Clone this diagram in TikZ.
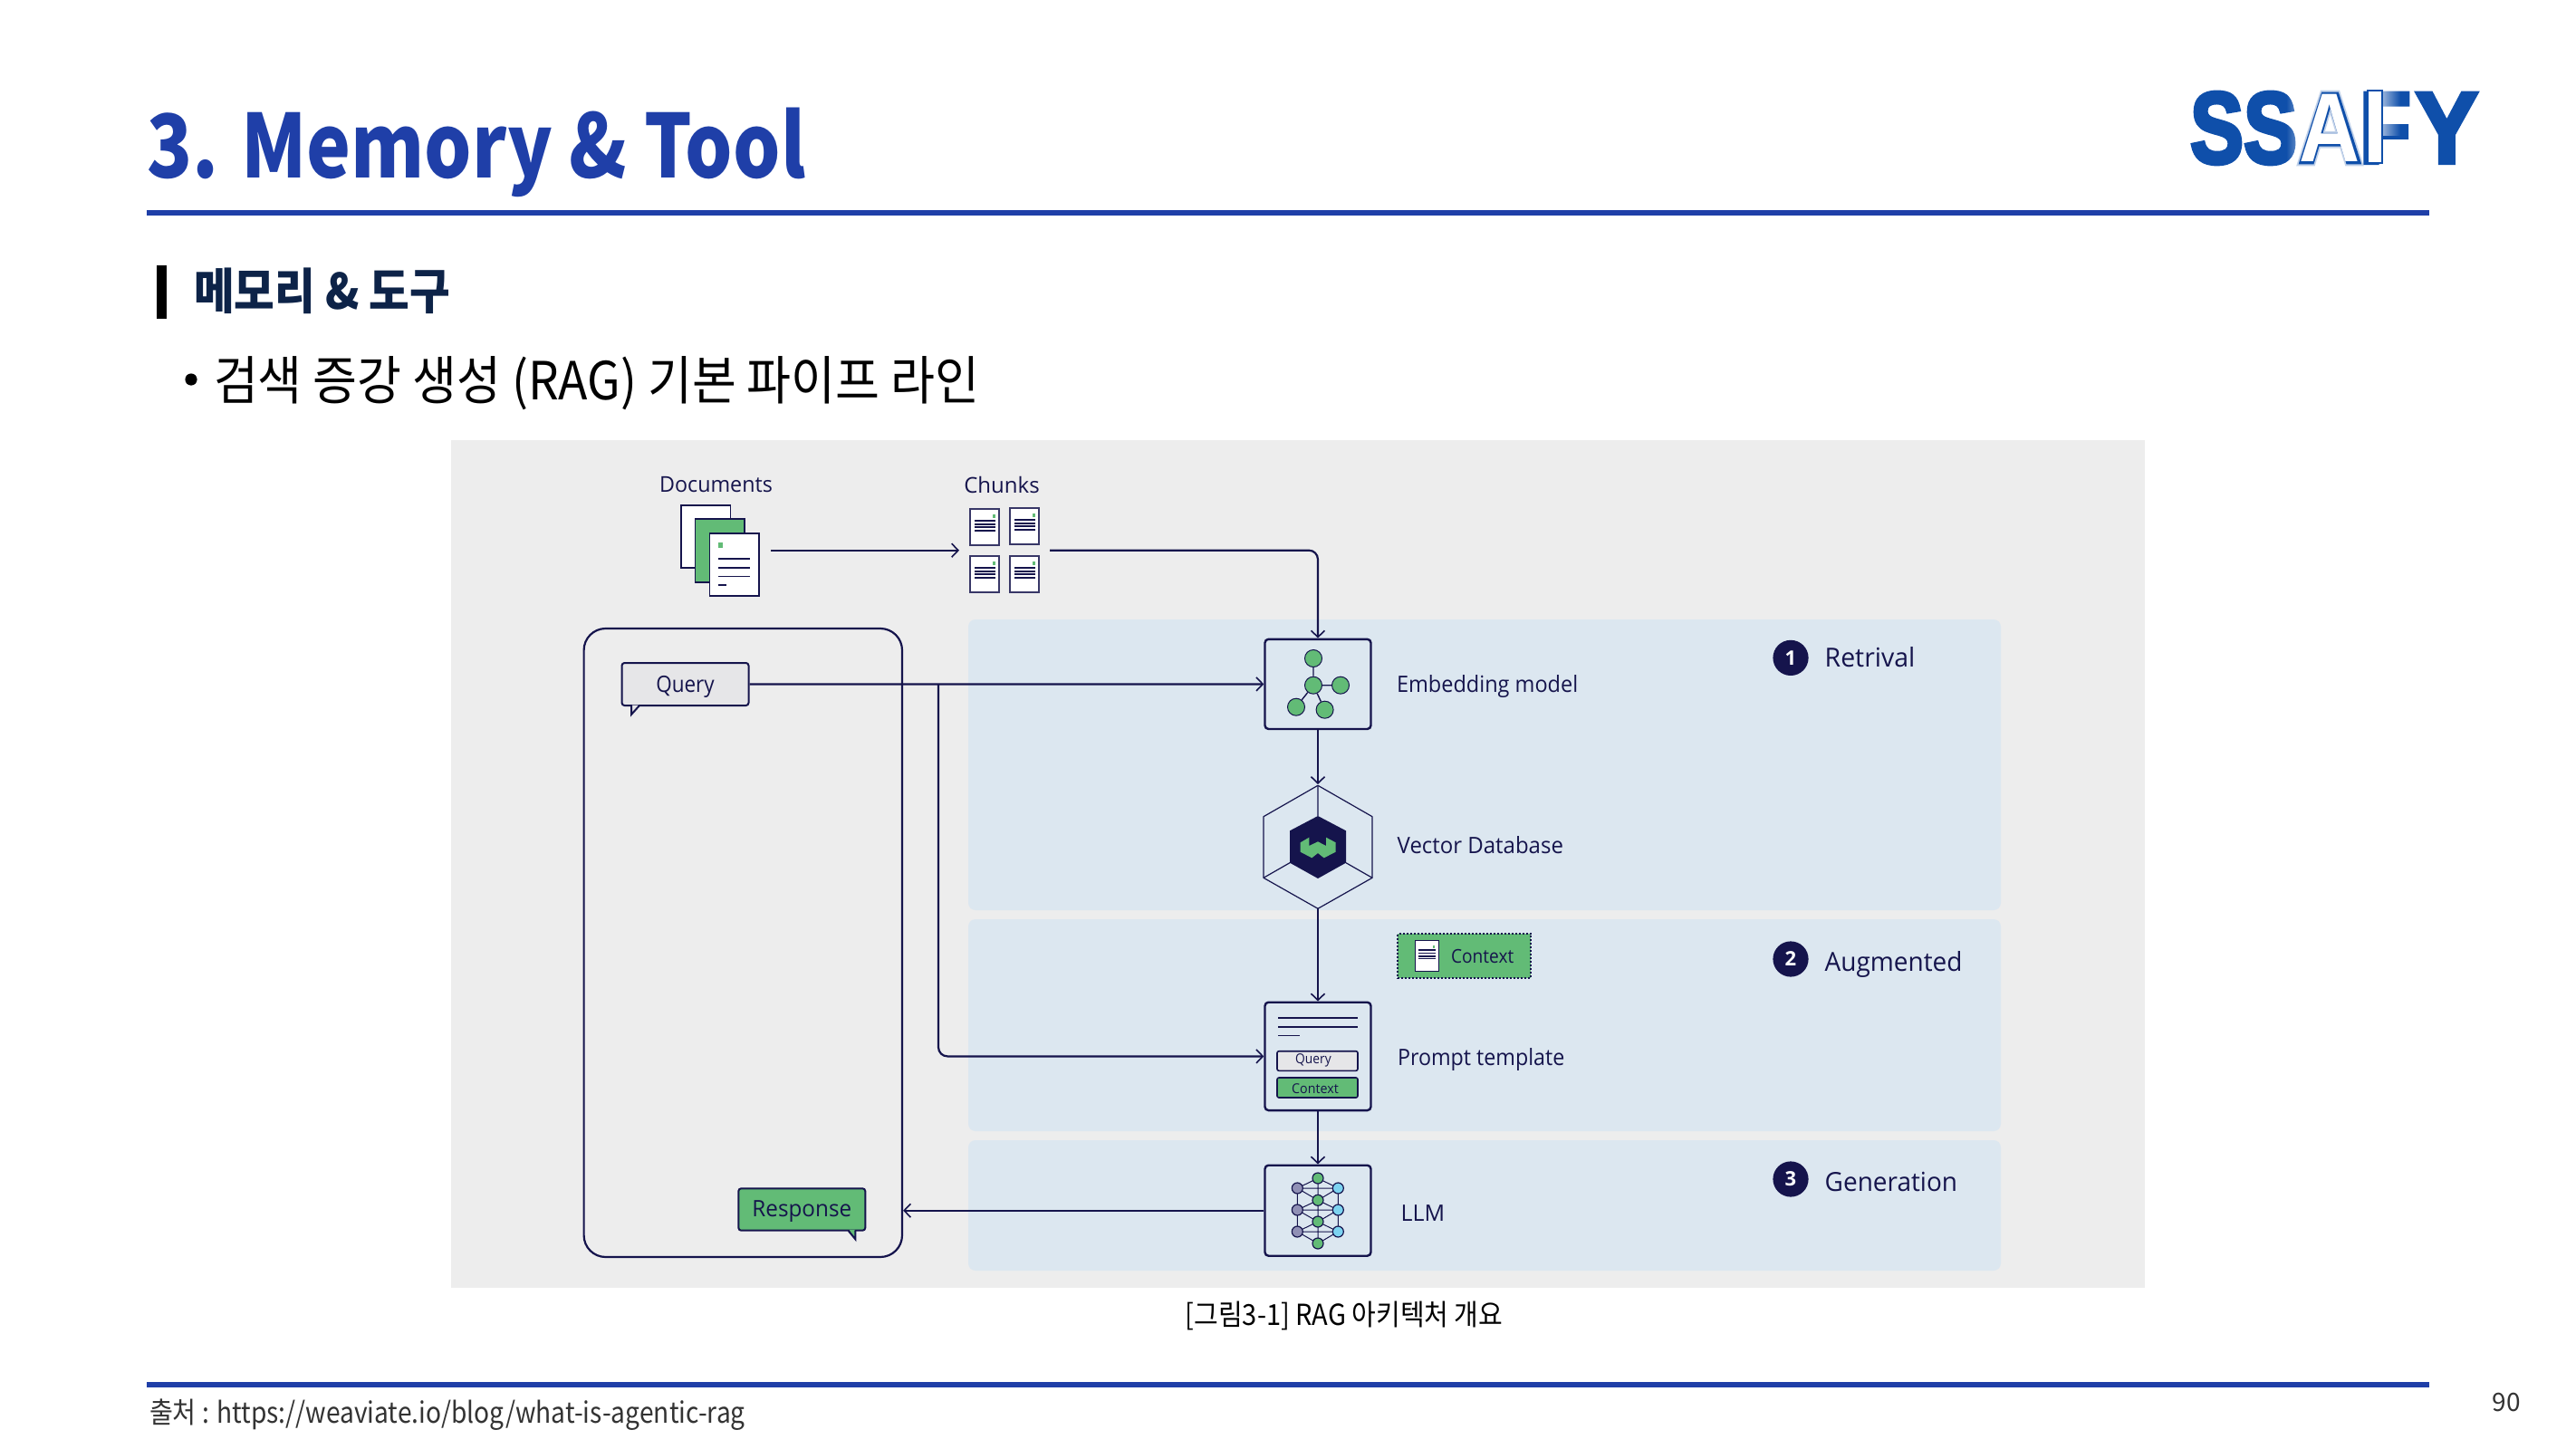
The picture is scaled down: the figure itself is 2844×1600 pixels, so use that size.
\documentclass[tikz,border=0pt]{standalone}
\usepackage{fontspec}
\usetikzlibrary{arrows.meta,fadings}
\setmainfont{Open Sans}
\newfontfamily\kr{Noto Sans CJK KR}
\newfontfamily\logofont{Liberation Sans Bold}
\newfontfamily\logofat[FakeBold=4]{Liberation Sans Bold}
\newfontfamily\logoedge[FakeBold=2.5]{Liberation Sans Bold}
\newfontfamily\logoglow[FakeBold=6]{Liberation Sans Bold}
\definecolor{titleblue}{HTML}{1F3FA8}
\definecolor{ink}{HTML}{15144C}
\definecolor{panelgrey}{HTML}{EDEDED}
\definecolor{panelblue}{HTML}{DCE7F0}
\definecolor{leaf}{HTML}{62BB76}
\definecolor{logoblue}{HTML}{0F4FAA}
\definecolor{subnavy}{HTML}{0D2348}
\definecolor{bubblegrey}{HTML}{E6E6E8}
\definecolor{nodepurple}{HTML}{9090B5}
\definecolor{nodesky}{HTML}{7DD3F0}
\newcommand\fpx[1]{\fontsize{\fpeval{#1*0.5}pt}{\fpeval{#1*0.6}pt}\selectfont}
\newcommand\xs[2]{\scalebox{#1}[1]{#2}}
\tikzset{
  x=0.5pt,y=-0.5pt,
  txt/.style={inner sep=0pt,outer sep=0pt,text=ink},
  lab/.style={txt,anchor=west,font=\fpx{25}},
  conn/.style={draw=ink,line width=1.1pt,-{Straight Barb[length=3.6pt,width=7.5pt,line width=.8pt]}},
  plain/.style={draw=ink,line width=1.1pt},
  band/.style={fill=panelblue,rounded corners=4pt},
  iconbox/.style={draw=ink,line width=1.2pt,rounded corners=2pt,inner sep=0pt,minimum width=58.5pt},
  page/.style={draw=ink,fill=white,line width=.7pt},
  thinpage/.style={draw=ink!85,fill=white,line width=.55pt},
  dotg/.style={circle,draw=ink,line width=.5pt,inner sep=0pt,minimum size=9.5pt,fill=leaf},
  netg/.style={circle,draw=ink,line width=.6pt,inner sep=0pt,minimum size=6pt,fill=leaf},
  netp/.style={netg,fill=nodepurple},
  nets/.style={netg,fill=nodesky},
  stepdot/.style={circle,fill=ink,inner sep=0pt,minimum size=19.6pt,text=white,font=\fpx{22}\bfseries},
  steplab/.style={txt,anchor=west,font=\fpx{29}},
  rule/.style={fill=titleblue},
  logotxt/.style={inner sep=0pt,outer sep=0pt,anchor=base},
  net/.style={draw=ink,line width=.5pt},
}
\begin{document}
\begin{tikzpicture}
\useasboundingbox (0,0) rectangle (2844,1600);
\fill[white] (0,0) rectangle (2844,1600);
% header
\node[txt,anchor=base west,text=titleblue,font=\kr\bfseries\fpx{97}] (title) at (162,196.5) {\xs{.85}{3. Memory \& Tool}};
\fill[rule] (162,232) rectangle (2682,238);
\fill[black] (173,293) rectangle (184,352);
\node[txt,anchor=base west,text=subnavy,font=\kr\bfseries\fpx{54}] (sub) at (214,341) {\xs{.90}{메모리 \& 도구}};
\node[circle,fill=black,inner sep=0pt,minimum size=6.6pt] (bul) at (211,419) {};
\node[txt,anchor=base west,text=black,font=\kr\fpx{58}] (bullet) at (236,441) {\xs{.917}{검색 증강 생성 (RAG) 기본 파이프 라인}};
% logo
\node[logotxt,anchor=base west,text=logoblue,font=\logofat\fpx{112}] (logoS) at (2418,180) {\xs{.79}{SS}};
\fill[white,path fading=west,opacity=.6] (2524,95) rectangle (2545,185);
\node[logotxt,text=logoblue,opacity=.25,font=\logoglow\fpx{112}] (logoAg) at (2572.5,180) {\xs{.88}{A}};
\node[logotxt,text=logoblue,font=\logoedge\fpx{112}] (logoAo) at (2572.5,180) {\xs{.88}{A}};
\node[logotxt,text=white,font=\logofont\fpx{108}] (logoA) at (2572.5,178.5) {\xs{.86}{A}};
\node[logotxt,anchor=base west,text=logoblue,font=\logofat\fpx{112}] (logoF) at (2605,180) {\xs{.83}{F}};
\fill[white,path fading=east,opacity=.55] (2631,98) rectangle (2650,150);
\draw[logoblue,line width=.7pt,fill=white] (2614,100) rectangle (2630,180);
\node[logotxt,anchor=base west,text=logoblue,font=\logofat\fpx{112}] (logoY) at (2667,180) {\xs{.92}{Y}};
% panels
\fill[panelgrey] (498,486) rectangle (2368,1422);
\fill[band] (1069,684) rectangle (2209,1005);
\fill[band] (1069,1015) rectangle (2209,1249);
\fill[band] (1069,1259) rectangle (2209,1403);
\fill[rule] (162,1526) rectangle (2682,1532);
% outer user box
\node[draw=ink,line width=1.1pt,rounded corners=12pt,inner sep=0pt,minimum width=175.7pt,minimum height=347pt] (user) at (820.3,1041) {};
% documents
\node[txt,font=\fpx{24}] (docs) at (790.5,535) {\xs{.97}{Documents}};
\node[txt,font=\fpx{24}] (chunks) at (1106,535) {Chunks};
\draw[page] (752,558) rectangle (806.5,627);
\draw[page,fill=leaf] (767.5,573) rectangle (822,643);
\node[page,inner sep=0pt,minimum width=27.3pt,minimum height=34.5pt] (front) at (810.8,623.5) {};
\fill[leaf] (793,599) rectangle (798,605);
\draw[ink,line width=1pt] (793,617.3) -- (828,617.3) (793,626.7) -- (828,626.7);
\draw[ink,line width=.6pt] (793,636.7) -- (828,636.7);
\draw[ink,line width=1pt] (793,646) -- (802,646);
\foreach \px/\py in {1071/562,1115/561,1071/614,1115/614}{
  \draw[thinpage] (\px,\py) rectangle ++(32,40);
  \fill[leaf] (\px+25,\py+6) rectangle ++(3,4);
  \foreach \dy in {13,17,20,24}{\draw[ink,line width=.55pt] (\px+5,\py+\dy) -- ++(23,0);}
}
\coordinate (docout) at (851,607.7);
\coordinate (chunkin) at (1059,607.7);
\coordinate (chunkout) at (1159,607.7);
\draw[conn] (docout) -- (chunkin);
% query and response bubbles
\fill[bubblegrey] (697,778) -- (697,789) -- (706,778) -- cycle;
\node[draw=ink,fill=bubblegrey,line width=1pt,rounded corners=1.5pt,inner sep=0pt,minimum width=70pt,minimum height=23.5pt] (query) at (756.5,755.5) {};
\node[txt,font=\fpx{25}] (queryl) at (756.5,758.5) {\xs{.9}{Query}};
\fill[bubblegrey] (698,778.5) -- (698,786) -- (705,778.5) -- cycle;
\draw[ink,line width=1pt] (697,779) -- (697,789) -- (706,779);
\fill[leaf] (936.7,1358) -- (944.3,1368.3) -- (944.3,1358) -- cycle;
\node[draw=ink,fill=leaf,line width=1pt,rounded corners=1.5pt,inner sep=0pt,minimum width=70pt,minimum height=23.2pt] (resp) at (885.3,1335.5) {};
\node[txt,font=\fpx{25}] (respl) at (885.3,1338) {\xs{.97}{Response}};
\fill[leaf] (937.7,1358) -- (943.5,1366) -- (943.5,1358) -- cycle;
\draw[ink,line width=1pt] (936.7,1359) -- (944.3,1368.3) -- (944.3,1359);
% embedding box
\node[iconbox,minimum height=49.6pt] (emb) at (1455,755.4) {};
\node[dotg] (e0) at (1450,727) {};
\node[dotg] (e1) at (1450,756.7) {};
\node[dotg] (e2) at (1480,756.7) {};
\node[dotg] (e3) at (1431,780.7) {};
\node[dotg] (e4) at (1462.6,783.7) {};
\draw[plain,line width=.7pt] (e0) -- (e1) (e1) -- (e2) (e1) -- (e3) (e1) -- (e4);
\node[lab] (embl) at (1542,758) {\xs{.94}{Embedding model}};
% vector database
\draw[ink,line width=.6pt,line join=round] (1455,867.3) -- (1515,901.7) -- (1515,969.3) -- (1455,1003.3) -- (1395,969.3) -- (1395,901.7) -- cycle;
\draw[ink,line width=.6pt] (1455,867.3) -- (1455,901) (1424,952.7) -- (1395,969.3) (1486,952.7) -- (1515,969.3);
\fill[ink] (1455,901) -- (1486,917.3) -- (1486,952.7) -- (1455,970) -- (1424,952.7) -- (1424,917.3) -- cycle;
\fill[leaf] (1435.7,930.3) -- (1445.3,924.7) -- (1445.3,934) -- (1455,929.3) -- (1464,934) -- (1464,924.7) -- (1474.7,930.3) -- (1474.7,940.7) -- (1461.7,947.3) -- (1455,942) -- (1448.3,947.3) -- (1435.7,940.7) -- cycle;
\coordinate (dbtop) at (1455,866);
\coordinate (dbbot) at (1455,1003.3);
\node[lab] (dbl) at (1542.7,932.7) {\xs{.96}{Vector Database}};
% context box
\node[draw=ink,densely dotted,fill=leaf,line width=1pt,inner sep=0pt,minimum width=73.6pt,minimum height=24.5pt] (ctx) at (1616.7,1055.5) {};
\draw[page] (1562.3,1038.7) rectangle (1588.3,1072.3);
\fill[leaf] (1581.5,1044) rectangle (1584,1047);
\foreach \ly in {1049,1052.7,1056,1058.7}{\draw[ink,line width=.55pt] (1565.7,\ly) -- (1585,\ly);}
\node[txt,font=\fpx{21}] (ctxl) at (1636.7,1056) {\xs{.91}{Context}};
% prompt template
\node[iconbox,minimum height=59.7pt] (prompt) at (1455,1166.4) {};
\draw[ink,line width=.7pt] (1411,1124) -- (1499.3,1124) (1411,1143.3) -- (1434.7,1143.3);
\draw[ink,line width=1pt] (1411,1134) -- (1499.3,1134);
\node[draw=ink,fill=bubblegrey,line width=.8pt,rounded corners=1pt,inner sep=0pt,minimum width=44.5pt,minimum height=10.8pt] (pq) at (1454.5,1171.5) {};
\node[txt,font=\fpx{15}] (pql) at (1450,1171) {\xs{.92}{Query}};
\node[draw=ink,fill=leaf,line width=.8pt,rounded corners=1pt,inner sep=0pt,minimum width=44.5pt,minimum height=11pt] (pc) at (1454.5,1201) {};
\node[txt,font=\fpx{15}] (pcl) at (1452,1202) {\xs{.95}{Context}};
\node[lab] (pl) at (1543,1169.5) {\xs{.93}{Prompt template}};
% LLM
\node[iconbox,minimum height=50pt] (llm) at (1455,1336.7) {};
\coordinate (pa) at (1432.3,1312); \coordinate (pb) at (1432.3,1336); \coordinate (pc2) at (1432.3,1360);
\coordinate (sa) at (1477.3,1312); \coordinate (sb) at (1477.3,1336); \coordinate (sc) at (1477.3,1360);
\coordinate (ga) at (1455,1301); \coordinate (gb) at (1455,1325.3); \coordinate (gc) at (1455,1349); \coordinate (gd) at (1455,1373);
\draw[net] (pa) -- (pc2) (sa) -- (sc) (ga) -- (gd) (pa) -- (sa) (pb) -- (sb) (pc2) -- (sc)
  (ga) -- (pa) -- (gb) -- (pb) -- (gc) -- (pc2) -- (gd) -- (sc) -- (gc) -- (sb) -- (gb) -- (sa) -- (ga);
\foreach \c in {pa,pb,pc2}{\node[netp] (n\c) at (\c) {};}
\foreach \c in {sa,sb,sc}{\node[nets] (n\c) at (\c) {};}
\foreach \c in {ga,gb,gc,gd}{\node[netg] (n\c) at (\c) {};}
\node[lab] (ll) at (1546.7,1340) {LLM};
% connectors
\draw[conn,rounded corners=5pt] (chunkout) -| (emb.north);
\draw[conn] (query.east) -- (emb.west);
\coordinate (qbranch) at (1036,755.5);
\draw[conn,rounded corners=5pt] (qbranch) |- (prompt.west);
\draw[conn] (emb.south) -- (dbtop);
\draw[conn] (dbbot) -- (prompt.north);
\draw[conn] (prompt.south) -- (llm.north);
\draw[conn] (llm.west) -- (user.east |- llm.west);
% steps
\node[stepdot] (s1) at (1977,726.4) {1};
\node[steplab] (s1l) at (2014.7,725.5) {\xs{.98}{Retrival}};
\node[stepdot] (s2) at (1977,1059) {2};
\node[steplab] (s2l) at (2014.7,1064.5) {\xs{.965}{Augmented}};
\node[stepdot] (s3) at (1977,1302) {3};
\node[steplab] (s3l) at (2014.7,1304.5) {\xs{.965}{Generation}};
% caption, footer
\node[txt,text=black,font=\kr\fpx{32}] (cap) at (1484,1453) {\xs{.907}{[그림3-1] RAG 아키텍처 개요}};
\node[txt,anchor=west,text=black!80,font=\kr\fpx{32}] (foot) at (165,1562) {\xs{.88}{출처 : https://weaviate.io/blog/what-is-agentic-rag}};
\node[txt,anchor=east,text=black!80,font=\kr\fpx{28}] (pg) at (2783,1549) {90};
\end{tikzpicture}
\end{document}
